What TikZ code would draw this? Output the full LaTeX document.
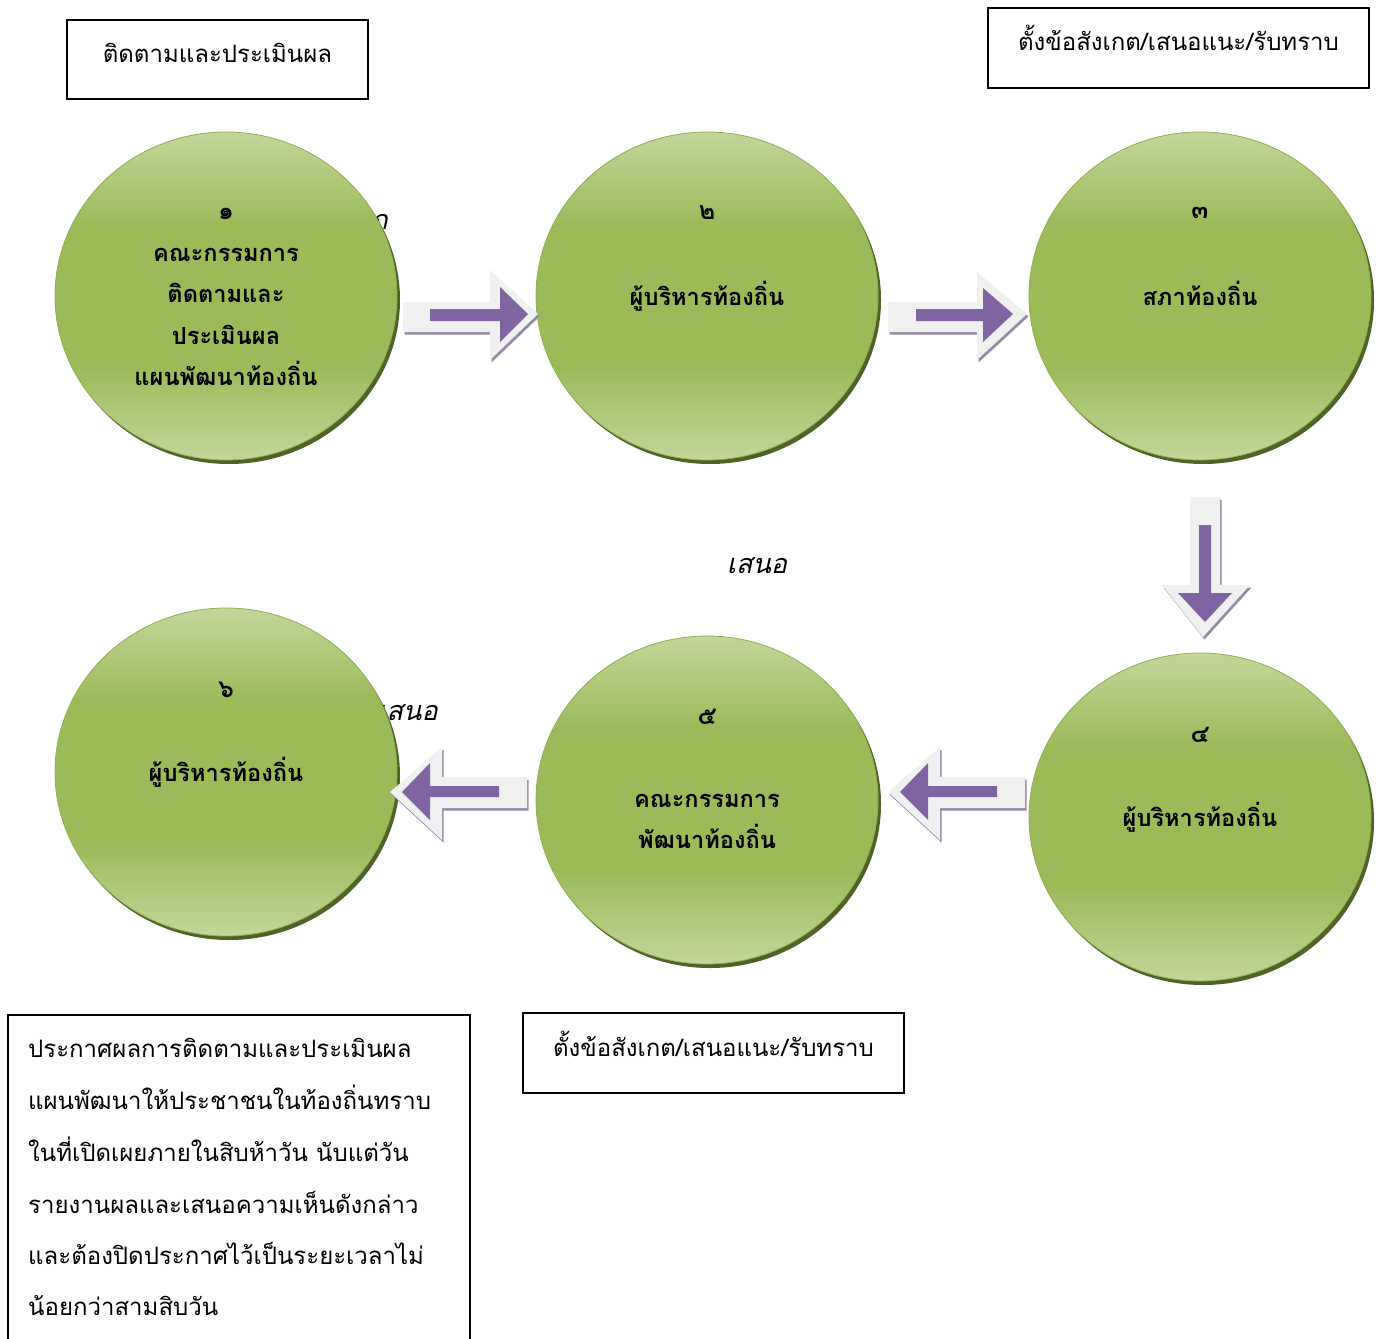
\documentclass[tikz,border=0pt]{standalone}
\usepackage{fontspec}
\setmainfont[Script=Thai]{Loma}
\newfontfamily\thaiit[Script=Thai,FakeSlant=0.22]{Loma}
\usetikzlibrary{shapes.geometric,shadows}
\definecolor{gl}{HTML}{C3D69B}
\definecolor{gm}{HTML}{9BBB59}
\definecolor{gedge}{HTML}{8FB04E}
\definecolor{gshadow}{HTML}{4F6228}
\definecolor{apurple}{HTML}{8064A2}
\definecolor{agray}{HTML}{F0F0F0}
\definecolor{ashadow}{HTML}{948AA6}
\pgfdeclareverticalshading{greenball}{100bp}{color(0bp)=(gl); color(25bp)=(gl); color(39bp)=(gm); color(61bp)=(gm); color(75bp)=(gl); color(100bp)=(gl)}
\tikzset{
  ball/.style={ellipse, minimum width=342pt, minimum height=328pt, inner sep=0pt,
    shading=greenball, draw=gedge, line width=0.8pt,
    drop shadow={shadow xshift=3pt, shadow yshift=-4pt, fill=gshadow, opacity=1}},
  numtxt/.style={font=\fontsize{25}{28}\bfseries\selectfont, inner sep=0pt},
  circtxt/.style={font=\fontsize{23.6}{41.5}\bfseries\selectfont, align=center, inner sep=0pt},
  boxtxt/.style={font=\fontsize{24}{28}\selectfont, inner sep=0pt, text height=22pt, text depth=6pt},
  ittxt/.style={font=\fontsize{27}{30}\thaiit, inner sep=0pt},
  frame/.style={draw=black, line width=1.5pt, inner sep=0pt},
  ashade/.style={fill=ashadow, shift={(1.5,2.5)}},
  abody/.style={fill=agray},
  acore/.style={fill=apurple}
}
\begin{document}
\begin{tikzpicture}[x=1pt,y=-1pt]
\useasboundingbox (0,0) rectangle (1380,1338);

% partly hidden texts (behind circles)
\node[ittxt, anchor=east] (hid1) at (388,222) {ก};
\node[ittxt, anchor=east] (hid2) at (438,713) {เสนอ};
\node[ittxt] (sn) at (757,566) {เสนอ};

% circles
\node[ball] (c1) at (226,296) {};
\node[ball] (c2) at (707,296) {};
\node[ball] (c3) at (1200,296) {};
\node[ball] (c4) at (1200,817) {};
\node[ball] (c5) at (707,800) {};
\node[ball] (c6) at (226,772) {};

% circle texts
\node[circtxt] (t1) at (226,297) {{\fontsize{25}{41.5}\selectfont ๑}\\คณะกรรมการ\\ติดตามและ\\ประเมินผล\\แผนพัฒนาท้องถิ่น};
\node[numtxt] (n2) at (707,213) {๒};
\node[circtxt] (t2) at (707,296) {ผู้บริหารท้องถิ่น};
\node[numtxt] (n3) at (1200,213) {๓};
\node[circtxt] (t3) at (1200,293) {สภาท้องถิ่น};
\node[numtxt] (n4) at (1200,735) {๔};
\node[circtxt] (t4) at (1200,817) {ผู้บริหารท้องถิ่น};
\node[numtxt] (n5) at (707,717) {๕};
\node[circtxt] (t5) at (707,821.5) {คณะกรรมการ\\พัฒนาท้องถิ่น};
\node[numtxt] (n6) at (226,690) {๖};
\node[circtxt] (t6) at (226,772) {ผู้บริหารท้องถิ่น};

% block arrow 1 -> 2
\fill[ashade] (403,302) -- (490,302) -- (490,270) -- (538,314) -- (490,360) -- (490,332) -- (403,332) -- cycle;
\fill[abody] (403,302) -- (490,302) -- (490,270) -- (538,314) -- (490,360) -- (490,332) -- (403,332) -- cycle;
\fill[acore] (430,309) -- (500,309) -- (500,287) -- (528,314) -- (500,342) -- (500,321) -- (430,321) -- cycle;

% block arrow 2 -> 3
\fill[ashade] (888,302) -- (977,302) -- (977,272) -- (1027,314) -- (977,360) -- (977,332) -- (888,332) -- cycle;
\fill[abody] (888,302) -- (977,302) -- (977,272) -- (1027,314) -- (977,360) -- (977,332) -- (888,332) -- cycle;
\fill[acore] (916,309) -- (983,309) -- (983,288) -- (1013,314) -- (983,342) -- (983,321) -- (916,321) -- cycle;

% block arrow 3 -> 4
\fill[ashade] (1190,497) -- (1220,497) -- (1220,585) -- (1250,585) -- (1203,637) -- (1162,585) -- (1190,585) -- cycle;
\fill[abody] (1190,497) -- (1220,497) -- (1220,585) -- (1250,585) -- (1203,637) -- (1162,585) -- (1190,585) -- cycle;
\fill[acore] (1199,525) -- (1211,525) -- (1211,593) -- (1232,593) -- (1205,622) -- (1178,593) -- (1199,593) -- cycle;

% block arrow 4 -> 5
\begin{scope}[shift={(498,0)}]
\fill[ashade] (527,777) -- (442,777) -- (442,747) -- (390,792) -- (442,840) -- (442,808) -- (527,808) -- cycle;
\fill[abody] (527,777) -- (442,777) -- (442,747) -- (390,792) -- (442,840) -- (442,808) -- (527,808) -- cycle;
\fill[acore] (499,786) -- (430,786) -- (430,763) -- (402,792) -- (430,820) -- (430,797) -- (499,797) -- cycle;
\end{scope}

% block arrow 5 -> 6
\fill[ashade] (527,777) -- (442,777) -- (442,747) -- (390,792) -- (442,840) -- (442,808) -- (527,808) -- cycle;
\fill[abody] (527,777) -- (442,777) -- (442,747) -- (390,792) -- (442,840) -- (442,808) -- (527,808) -- cycle;
\fill[acore] (499,786) -- (430,786) -- (430,763) -- (402,792) -- (430,820) -- (430,797) -- (499,797) -- cycle;

% text boxes
\node[frame, minimum width=301pt, minimum height=79pt] (b1) at (217.5,59.5) {};
\node[boxtxt] (bt1) at (217.5,55) {ติดตามและประเมินผล};
\node[frame, minimum width=381pt, minimum height=80pt] (b2) at (1178.5,48) {};
\node[boxtxt] (bt2) at (1178.5,43) {ตั้งข้อสังเกต/เสนอแนะ/รับทราบ};
\node[frame, minimum width=381pt, minimum height=80pt] (b3) at (713.5,1053) {};
\node[boxtxt] (bt3) at (713.5,1048) {ตั้งข้อสังเกต/เสนอแนะ/รับทราบ};
\node[frame, minimum width=462pt, minimum height=340pt, anchor=north west] (b4) at (7,1014) {};
\node[boxtxt, anchor=west] (l1) at (28,1049) {ประกาศผลการติดตามและประเมินผล};
\node[boxtxt, anchor=west] (l2) at (28,1101) {แผนพัฒนาให้ประชาชนในท้องถิ่นทราบ};
\node[boxtxt, anchor=west] (l3) at (28,1153) {ในที่เปิดเผยภายในสิบห้าวัน นับแต่วัน};
\node[boxtxt, anchor=west] (l4) at (28,1205) {รายงานผลและเสนอความเห็นดังกล่าว};
\node[boxtxt, anchor=west] (l5) at (28,1256) {และต้องปิดประกาศไว้เป็นระยะเวลาไม่};
\node[boxtxt, anchor=west] (l6) at (28,1307) {น้อยกว่าสามสิบวัน};
\end{tikzpicture}
\end{document}
